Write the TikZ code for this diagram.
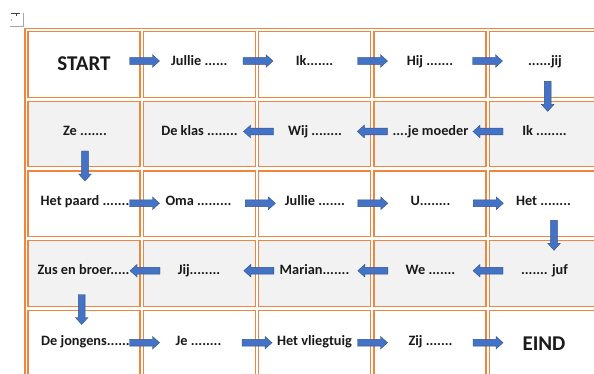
\documentclass[tikz,border=0pt]{standalone}
\usepackage{fontspec}
\setmainfont{Carlito}
\definecolor{org}{HTML}{EE8640}
\definecolor{gry}{HTML}{F2F2F2}
\definecolor{blu}{HTML}{4472C4}
\definecolor{bluedge}{HTML}{2F528F}
\definecolor{txt}{HTML}{1A1A1A}
\tikzset{
  cellbox/.style={draw=org, line width=1.2pt, minimum width=112pt, minimum height=65.5pt, inner sep=0pt},
  greycell/.style={cellbox, fill=gry},
  lbl/.style={font=\fontsize{14.3}{16}\selectfont\bfseries, text=txt, inner sep=0pt, anchor=base},
  biglbl/.style={lbl, font=\fontsize{21}{24}\selectfont\bfseries},
  pics/barrow/.style={code={\filldraw[fill=blu, draw=bluedge, line width=0.4pt]
     (-15,-3.4) -- (8,-3.4) -- (8,-6.3) -- (15,0) -- (8,6.3) -- (8,3.4) -- (-15,3.4) -- cycle;}},
}
\begin{document}
\begin{tikzpicture}[x=1pt,y=-1pt]
\useasboundingbox (0,0) rectangle (594,374);
\clip (0,0) rectangle (594,374);
\fill[white] (0,0) rectangle (594,374);
% table move handle
\draw[black!35, line width=0.8pt] (10,26.5) -- (23,26.5) -- (23,13);
\draw[black!75, line width=1pt] (11,14) -- (20,14);
\draw[black!75, line width=0.8pt] (16.5,14) -- (16.5,16.5);
\fill[black!60] (11.5,20) circle (0.7);
% table border
\draw[org, line width=1.2pt] (25,28.2) rectangle (640,420);
% cells
\foreach \r in {0,...,4}{
  \foreach \c in {0,...,4}{
    \pgfmathsetmacro{\cx}{84+115.3*\c}
    \pgfmathsetmacro{\cy}{64.4+69.7*\r}
    \pgfmathtruncatemacro{\odd}{mod(\r,2)}
    \ifnum\odd=1
      \node[greycell] (c\r\c) at (\cx,\cy) {};
    \else
      \node[cellbox] (c\r\c) at (\cx,\cy) {};
    \fi
  }
}
% labels
\node[biglbl] (t00) at (84,71) {START};
\node[lbl] (t01) at (199.3,65.7) {Jullie ......};
\node[lbl] (t02) at (314.6,65.7) {Ik.......};
\node[lbl] (t03) at (430,65.7) {Hij .......};
\node[lbl] (t04) at (545,65.7) {......jij};

\node[lbl] (t10) at (85,135.3) {Ze .......};
\node[lbl] (t11) at (199.5,135.3) {De klas ........};
\node[lbl] (t12) at (315,135.3) {Wij ........};
\node[lbl] (t13) at (430.5,135.3) {....je moeder};
\node[lbl] (t14) at (544.5,135.3) {Ik ........};

\node[lbl] (t20) at (85,205) {Het paard .......};
\node[lbl] (t21) at (198.5,205) {Oma .........};
\node[lbl] (t22) at (315,205) {Jullie .......};
\node[lbl] (t23) at (430.5,205) {U........};
\node[lbl] (t24) at (543.5,205) {Het ........};

\node[lbl] (t30) at (83.5,274.7) {Zus en broer.....};
\node[lbl] (t31) at (199,274.7) {Jij........};
\node[lbl] (t32) at (314.5,274.7) {Marian.......};
\node[lbl] (t33) at (430.5,274.7) {We .......};
\node[lbl] (t34) at (544.5,274.7) {....... juf};

\node[lbl] (t40) at (85.5,345) {De jongens......};
\node[lbl] (t41) at (198.5,345) {Je ........};
\node[lbl] (t42) at (314.5,345) {Het vliegtuig};
\node[lbl] (t43) at (430.5,345) {Zij .......};
\node[biglbl] (t44) at (544,350.7) {EIND};

% arrows row 0 (right)
\pic at (144.5,61) {barrow};
\pic at (258,61) {barrow};
\pic at (372.5,61) {barrow};
\pic at (487.5,61) {barrow};
\pic[rotate=-90] at (547.7,96.4) {barrow};
% row 1 (left)
\pic[rotate=180] at (488,131.5) {barrow};
\pic[rotate=180] at (372.3,131.5) {barrow};
\pic[rotate=180] at (258.5,131.5) {barrow};
\pic[rotate=-90] at (85,166) {barrow};
% row 2 (right)
\pic at (144.5,203.3) {barrow};
\pic at (260.4,203.3) {barrow};
\pic at (372.8,203.3) {barrow};
\pic at (488.3,203.3) {barrow};
\pic[rotate=-90] at (554,235.3) {barrow};
% row 3 (left)
\pic[rotate=180] at (488,270.7) {barrow};
\pic[rotate=180] at (372.8,270.7) {barrow};
\pic[rotate=180] at (258.8,270.7) {barrow};
\pic[rotate=180] at (145,270.7) {barrow};
\pic[rotate=-90] at (81.7,309.5) {barrow};
% row 4 (right)
\pic at (144.5,342.7) {barrow};
\pic at (257,342.7) {barrow};
\pic at (372.5,342.7) {barrow};
\pic at (488,342.7) {barrow};
\end{tikzpicture}
\end{document}
